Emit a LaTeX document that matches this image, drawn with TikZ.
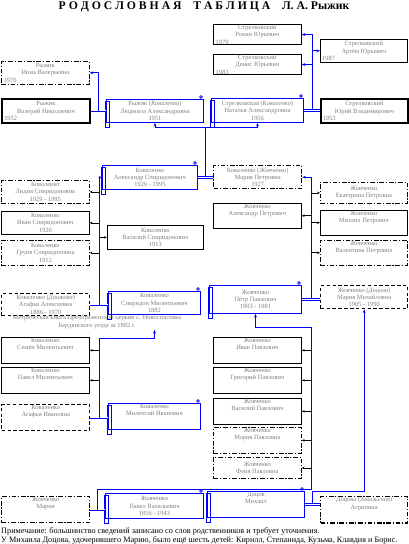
\documentclass[tikz,border=0pt]{standalone}
\usepackage{fontspec}
\setmainfont{Liberation Serif}
\usepackage{tikz}
\usetikzlibrary{arrows.meta,calc,positioning}
\newcommand{\lyr}[1]{\makebox[2.5cm][l]{#1}}
\tikzset{
  pers/.style={rectangle, anchor=north west, inner sep=0.5pt, align=center, text=gray,
    font=\fontsize{5.5}{6.3}\selectfont, minimum width=88*0.03cm, minimum height=23*0.03cm},
  sz/.style 2 args={minimum width=#1*0.03cm, minimum height=#2*0.03cm},
  plain/.style={pers, draw=black, line width=0.6pt},
  heavy/.style={pers, draw=black, line width=1.6pt},
  dashbox/.style={pers, draw=black, line width=1.2pt, dash pattern=on 3pt off 2pt},
  dotbox/.style={pers, draw=black, line width=0.6pt, dash pattern=on 4pt off 1.5pt on 1pt off 1.5pt},
  heavydot/.style={pers, draw=black, line width=1.2pt, dash pattern=on 4pt off 1.5pt on 1pt off 1.5pt},
  scroll/.style={pers, draw=blue, line width=0.8pt},
  marr/.style={draw=blue, double, double distance=0.9pt, line width=0.5pt},
  kin/.style={draw=blue, line width=0.8pt, -{Stealth[length=3pt,width=2.5pt]}},
  sib/.style={draw=black, line width=0.5pt, -{Stealth[length=2.5pt,width=2pt]}},
}

\begin{document}
\begin{tikzpicture}[x=0.03cm, y=-0.03cm]

\useasboundingbox (0,0) rectangle (408,544);

% titre
\node (titre) at (204,7) {\fontsize{10}{11}\bfseries Р О Д О С Л О В Н А Я\quad Т А Б Л И Ц А\quad Л. А. Рыжик};

% Рыжик, Стрелковский
\node[dotbox] (inna) at (1,61) {Рыжик\\Инна Валерьевна\\\lyr{1976}};
\node[heavy, sz={88}{24}] (valerij) at (1,98) {Рыжик\\Валерий Николаевич\\\lyr{1952}};
\node[scroll, sz={97}{23}] (lyud) at (106,99) {Рыжик (\textit{Коваленко})\\Людмила Александровна\\1951};
\node[scroll, sz={92}{24}] (natal) at (211,98) {Стрелковская (\textit{Коваленко})\\Наталья Александровна\\1956};
\node[heavy, sz={87}{24}] (jurij) at (320,98) {Стрелковский\\Юрий Владимирович\\\lyr{1953}};
\node[plain, sz={88}{20}] (roman) at (213,24) {Стрелковский\\Роман Юрьевич\\\lyr{1979}};
\node[plain, sz={88}{20}] (denis) at (213,54) {Стрелковский\\Денис Юрьевич\\\lyr{1983}};
\node[plain, sz={87}{23}] (artem) at (320,39) {Стрелковский\\Артём Юрьевич\\\lyr{1987}};

% Коваленко
\node[scroll, sz={95}{24}] (aleksS) at (102,165) {Коваленко\\Александр Спиридонович\\1926 - 1995};
\node[heavydot] (mariaP) at (213,165) {Коваленко (\textit{Жовченко})\\Мария Петровна\\1927};
\node[dotbox] (lidia) at (1,180) {Коваленко\\Лидия Спиридоновна\\1929 - 1995};
\node[plain] (ivanS) at (1,211) {Коваленко\\Иван Спиридонович\\1920};
\node[plain, sz={96}{24}] (vasS) at (107,225) {Коваленко\\Василий Спиридонович\\1913};
\node[dotbox, sz={88}{25}] (grunja) at (1,240) {Коваленко\\Груня Спиридоновна\\1912};
\node[dashbox, sz={88}{22}] (agafD) at (1,293) {Коваленко (\textit{Дашкова})\\Агафья Алексеевна\\1886 - 1970};
\node[scroll, sz={92}{23}] (spirid) at (108,291) {Коваленко\\Спиридон Милентьевич\\1882};
\node[plain] (semen) at (1,337) {Коваленко\\Семён Милентьевич\\[5pt]};
\node[plain] (pavelM) at (1,367) {Коваленко\\Павел Милентьевич\\[5pt]};
\node[dashbox] (agafI) at (1,404) {Коваленко\\Агафья Ивановна\\[5pt]};
\node[scroll, sz={92}{24}] (milent) at (108,403) {Коваленко\\Милентий Иванович\\[5pt]};
\node[pers, minimum width=0pt, minimum height=0pt, anchor=center] (metr) at (97,322)
  {Метрическая книга Преображенской церкви с. Новоспасовка\\Бердянского уезда за 1882 г.};

% Жовченко
\node[dotbox, sz={87}{21}] (ekat) at (320,182) {Жовченко\\Екатерина Петровна};
\node[plain, sz={88}{22}] (aleksP) at (213,203) {Жовченко\\Александр Петрович\\[4pt]};
\node[plain, sz={87}{23}] (mihP) at (320,210) {Жовченко\\Михаил Петрович\\[4pt]};
\node[dotbox, sz={87}{23}] (valent) at (320,240) {Жовченко\\Валентина Петровна\\[4pt]};
\node[scroll, sz={92}{28}] (petr) at (209,285) {Жовченко\\Пётр Павлович\\1903 - 1981};
\node[dashbox, sz={87}{23}] (mariaM) at (320,285) {Жовченко (\textit{Доцова})\\Мария Михайловна\\1905 - 1990};
\node[plain] (ivanP) at (213,337) {Жовченко\\Иван Павлович\\[5pt]};
\node[plain] (grig) at (213,367) {Жовченко\\Григорий Павлович\\[5pt]};
\node[plain, sz={88}{21}] (vasP) at (213,398) {Жовченко\\Василий Павлович\\[5pt]};
\node[dotbox, sz={88}{22}] (mariaPl) at (213,427) {Жовченко\\Мария Павловна\\[5pt]};
\node[dotbox, sz={88}{21}] (fenja) at (213,457) {Жовченко\\Феня Павловна};
\node[heavydot] (mariaZ) at (1,496) {Жовченко\\Мария\\[5pt]};
\node[scroll, sz={98}{25}] (pavelV) at (105,493) {Жовченко\\Павел Васильевич\\1856 - 1943};
\node[scroll, sz={97}{25}] (mihail) at (207,491) {Доцов\\Михаил\\[5pt]};
\node[heavydot, sz={87}{22}] (agripp) at (320,496) {Доцова (\textit{Завальская})\\Агрипина\\[5pt]};

% свитки
\foreach \n in {lyud,natal,aleksS,spirid,milent,petr,pavelV,mihail}{
  \draw[blue, line width=0.8pt] ($(\n.north west)+(-1,2)$) rectangle ($(\n.south west)+(3,5)$);
  \draw[blue, line width=0.6pt] ($(\n.north east)+(-3,-2)$) circle (1.2pt);
}

% браки
\draw[marr] (valerij.east) -- (valerij.east -| lyud.west);
\draw[marr] (natal.east) -- (natal.east -| jurij.west);
\draw[marr] (aleksS.east) -- (aleksS.east -| mariaP.west);
\draw[marr] (agafD.east) -- (agafD.east -| spirid.west);
\draw[marr] (agafI.east) -- (agafI.east -| milent.west);
\draw[marr] (petr.east) -- (petr.east -| mariaM.west);
\draw[marr] (mariaZ.east) -- (mariaZ.east -| pavelV.west);
\draw[marr] (mihail.east) -- (mihail.east -| agripp.west);
\coordinate (j1) at ($(valerij.east)!0.5!(valerij.east -| lyud.west)$);
\coordinate (j2) at ($(natal.east)!0.5!(natal.east -| jurij.west)$);
\coordinate (j3) at ($(aleksS.east)!0.5!(aleksS.east -| mariaP.west)$);
\coordinate (j4) at ($(agafD.east)!0.5!(agafD.east -| spirid.west)$);
\coordinate (j5) at ($(agafI.east)!0.5!(agafI.east -| milent.west)$);
\coordinate (j6) at ($(petr.east)!0.5!(petr.east -| mariaM.west)$);
\coordinate (j7) at ($(mariaZ.east)!0.5!(mariaZ.east -| pavelV.west)$);
\coordinate (j8) at ($(mihail.east)!0.5!(mihail.east -| agripp.west)$);

% дети
\draw[kin] (j1) |- (inna.east);
\draw[kin] (j2) |- (roman.east);
\draw[kin] (j2 |- denis.east) -- (denis.east);
\draw[kin] (j2 |- artem.west) -- (artem.west);

\coordinate (k3) at ($(j3 |- lyud.south)+(0,5)$);
\draw[blue, line width=0.8pt] (j3) -- (k3);
\draw[kin] (k3) -| (lyud.south);
\draw[kin] (k3) -| (natal.south);

\draw[kin] (j4) |- (aleksS.west);
\foreach \n in {lidia,ivanS,grunja}
  \draw[sib] (j4 |- \n.east) -- (\n.east);
\draw[sib] (j4 |- vasS.west) -- (vasS.west);

\coordinate (k5) at ($(spirid.south)+(0,24)$);
\coordinate (s5) at ($(spirid.south)+(0,15)$);
\draw[kin] (j5) |- (k5) -- (s5);
\foreach \n in {semen,pavelM}
  \draw[sib] (j5 |- \n.east) -- (\n.east);

\draw[kin] (j6) |- (mariaP.east);
\foreach \n in {ekat,mihP,valent}
  \draw[sib] (j6 |- \n.west) -- (\n.west);
\draw[sib] (j6 |- aleksP.east) -- (aleksP.east);

\coordinate (k7) at ($(petr.south)+(0,14)$);
\coordinate (v7) at ($(j6 |- j7)+(0,-20)$);
\draw[kin] (j7) |- (v7) |- (k7) -- (petr.south);
\foreach \n in {ivanP,grig,vasP,mariaPl,fenja}
  \draw[sib] (v7 |- \n.east) -- (\n.east);

\coordinate (k8) at ($(j8)+(0,-13)$);
\draw[kin] (j8) -- (k8) -| (mariaM.south);

% примечание
\node[anchor=north west, inner sep=0pt, align=left, font=\fontsize{7}{7.6}\selectfont] (prim) at (1,527)
  {Примечание: большинство сведений записано со слов родственников и требует уточнения.\\
   У Михаила Доцова, удочерившего Марию, было ещё шесть детей: Кирилл, Степанида, Кузьма, Клавдия и Борис.};

\end{tikzpicture}
\end{document}
